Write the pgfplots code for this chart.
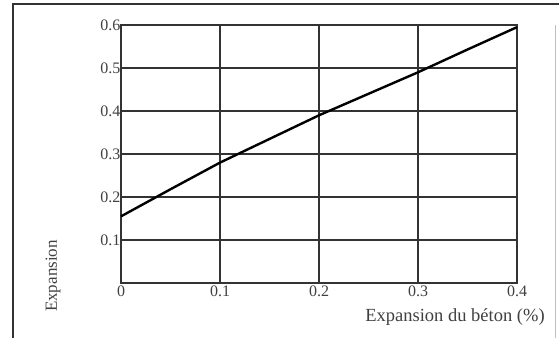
\documentclass[border=0pt]{standalone}
\usepackage{pgfplots}
\pgfplotsset{compat=1.18}
\usepackage{fontspec}
\setmainfont{Liberation Serif}
\begin{document}
\begin{tikzpicture}[x=1pt,y=1pt]
\useasboundingbox (0,0) rectangle (559,338);
\draw[line width=2pt, black!80] (13,0) -- (13,334) -- (559,334);
\draw[line width=0.6pt, black!25] (555,313) -- (555,0);
\begin{axis}[
  at={(121pt,55pt)}, anchor=south west,
  scale only axis, width=396pt, height=258pt,
  xmin=0, xmax=0.4, ymin=0, ymax=0.6,
  xtick={0,0.1,0.2,0.3,0.4},
  xticklabels={0,0.1,0.2,0.3,0.4},
  ytick={0.1,0.2,0.3,0.4,0.5,0.6},
  yticklabels={0.1,0.2,0.3,0.4,0.5,0.6},
  grid=major,
  major grid style={black!80, line width=2pt},
  axis line style={black!80, line width=2pt},
  tick style={draw=none},
  ticklabel style={font=\fontsize{16}{18}\selectfont, text=black!75},
  xticklabel style={yshift=1pt},
  yticklabel style={xshift=3pt},
  clip=false,
]
\addplot[black, line width=2.4pt] coordinates {
  (0,0.155) (0.05,0.218) (0.1,0.28) (0.15,0.335) (0.2,0.39)
  (0.25,0.44) (0.3,0.49) (0.35,0.543) (0.4,0.595)
};
\end{axis}
\node[rotate=90, font=\fontsize{17}{19}\selectfont, text=black!75] at (53,62) {Expansion};
\node[font=\fontsize{18.5}{20}\selectfont, text=black!75] at (455,21) {Expansion du béton (\%)};
\end{tikzpicture}
\end{document}
